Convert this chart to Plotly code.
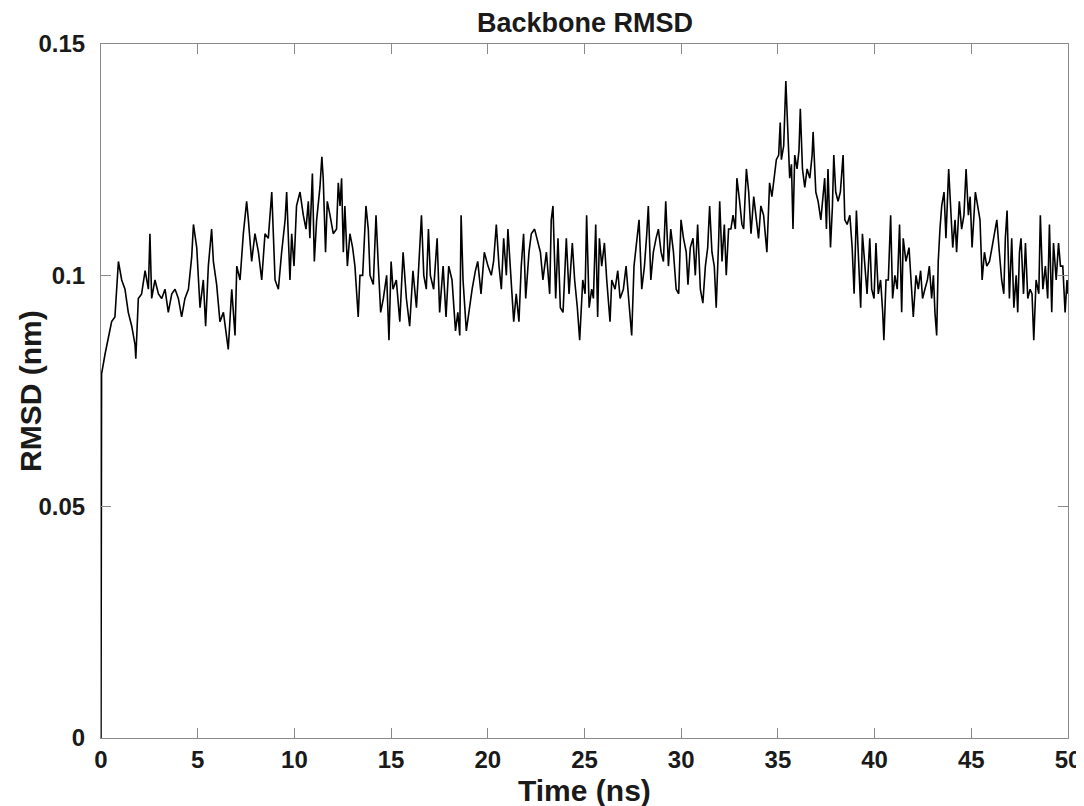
import plotly.graph_objects as go

# Time (ns) and backbone RMSD (nm)
time_ns = [
    0.00, 0.01, 0.02, 0.03, 0.21, 0.38, 0.55, 0.72, 0.90, 1.07, 1.24, 1.41, 1.59, 1.76, 1.80, 1.93,
    2.10, 2.28, 2.45, 2.53, 2.62, 2.79, 2.97, 3.14, 3.31, 3.48, 3.66, 3.83, 4.00, 4.17, 4.34, 4.52,
    4.69, 4.78, 4.95,
    5.12, 5.29, 5.41, 5.55, 5.72, 5.81, 5.98, 6.15, 6.33, 6.50, 6.58, 6.76, 6.93, 7.02, 7.19, 7.36,
    7.53, 7.62, 7.79, 7.96, 8.14, 8.31, 8.48, 8.65, 8.83, 9.00, 9.17, 9.34, 9.52, 9.60, 9.77,
    9.86, 9.98, 10.11, 10.29, 10.46, 10.60, 10.72, 10.80, 10.93, 11.03, 11.15, 11.32, 11.42, 11.49,
    11.61, 11.70, 11.84, 12.01, 12.18, 12.27, 12.36, 12.44, 12.53, 12.61, 12.74, 12.87, 13.01, 13.13,
    13.30, 13.39, 13.53, 13.70, 13.82, 13.91, 14.08, 14.22, 14.34, 14.46, 14.60, 14.77, 14.89,
    15.00, 15.10, 15.27, 15.45, 15.62, 15.79, 15.96, 16.13, 16.31, 16.43, 16.57, 16.69, 16.82, 16.93,
    17.03, 17.20, 17.38, 17.51, 17.69, 17.84, 17.98, 18.15, 18.33, 18.45, 18.55, 18.62, 18.72, 18.89,
    19.01, 19.19, 19.36, 19.48, 19.65, 19.82,
    20.01, 20.18, 20.30, 20.44, 20.58, 20.70, 20.82, 20.96, 21.04, 21.16, 21.34, 21.47, 21.61, 21.73,
    21.85, 21.96, 22.13, 22.25, 22.42, 22.54, 22.72, 22.85, 23.03, 23.20, 23.28, 23.37, 23.51, 23.63,
    23.75, 23.89, 24.06, 24.20, 24.37, 24.49, 24.63, 24.75,
    24.91, 25.03, 25.11, 25.24, 25.37, 25.46, 25.58, 25.68, 25.77, 25.89, 26.03, 26.15, 26.32, 26.41,
    26.58, 26.72, 26.84, 27.01, 27.15, 27.32, 27.44, 27.56, 27.70, 27.82, 27.96, 28.10, 28.22, 28.30,
    28.43, 28.56, 28.70, 28.82, 28.96, 29.08, 29.20, 29.34, 29.46, 29.60, 29.74,
    29.87, 29.99, 30.12, 30.26, 30.35, 30.47, 30.61, 30.73, 30.85, 30.99, 31.12, 31.25, 31.37, 31.47,
    31.59, 31.71, 31.81, 31.94, 31.99, 32.11, 32.23, 32.33, 32.45, 32.57, 32.68, 32.80, 32.88, 33.02,
    33.14, 33.23, 33.37, 33.49, 33.61, 33.75, 33.88, 34.00, 34.12, 34.26, 34.43, 34.57, 34.69, 34.81,
    34.92, 35.04, 35.12,
    35.18, 35.30, 35.41, 35.53, 35.61, 35.70, 35.78, 35.87, 35.99, 36.09, 36.16, 36.27, 36.39, 36.51,
    36.65, 36.77, 36.82, 36.96, 37.08, 37.22, 37.34, 37.42, 37.51, 37.59, 37.72, 37.82, 37.89, 37.99,
    38.11, 38.23, 38.37, 38.46, 38.58, 38.72, 38.84, 38.94, 39.06, 39.18, 39.28, 39.37, 39.49, 39.61,
    39.75,
    39.85, 39.97, 40.07, 40.19, 40.31, 40.42, 40.48, 40.59, 40.71, 40.83, 40.93, 41.05, 41.17, 41.29,
    41.40, 41.48, 41.62, 41.78, 41.92, 42.00, 42.14, 42.26, 42.38, 42.48, 42.60, 42.73, 42.83, 42.95,
    43.04, 43.12, 43.21, 43.29, 43.38, 43.47, 43.59, 43.69, 43.83, 43.93, 44.04, 44.16, 44.24, 44.38,
    44.50, 44.62, 44.73, 44.85,
    44.94, 45.04, 45.16, 45.21, 45.33, 45.45, 45.56, 45.68, 45.80, 45.94, 46.07, 46.20, 46.32, 46.45,
    46.57, 46.68, 46.76, 46.85, 46.97, 47.09, 47.20, 47.32, 47.40, 47.49, 47.57, 47.70, 47.80, 47.92,
    48.04, 48.14, 48.23, 48.35, 48.49, 48.57, 48.70, 48.83, 48.95, 49.04, 49.16, 49.25, 49.39, 49.51,
    49.61, 49.73, 49.85, 49.95, 50.00,
]

rmsd_nm = [
    0.000, 0.041, 0.075, 0.0787, 0.083, 0.0867, 0.090, 0.091, 0.103, 0.099, 0.097, 0.092, 0.089, 0.085, 0.082, 0.095,
    0.096, 0.101, 0.097, 0.109, 0.095, 0.099, 0.096, 0.095, 0.097, 0.092, 0.096, 0.097, 0.095, 0.091, 0.095, 0.097,
    0.104, 0.111, 0.106,
    0.093, 0.099, 0.089, 0.102, 0.110, 0.103, 0.098, 0.090, 0.092, 0.086, 0.084, 0.097, 0.087, 0.102, 0.099, 0.109,
    0.116, 0.112, 0.103, 0.109, 0.105, 0.099, 0.109, 0.108, 0.118, 0.099, 0.097, 0.105, 0.112, 0.118, 0.099,
    0.109, 0.102, 0.115, 0.118, 0.113, 0.110, 0.116, 0.108, 0.122, 0.103, 0.112, 0.119, 0.1256, 0.121,
    0.105, 0.116, 0.113, 0.109, 0.110, 0.120, 0.115, 0.121, 0.105, 0.115, 0.102, 0.109, 0.106, 0.102,
    0.091, 0.100, 0.100, 0.115, 0.110, 0.100, 0.098, 0.113, 0.102, 0.092, 0.095, 0.100, 0.086,
    0.103, 0.097, 0.099, 0.090, 0.105, 0.095, 0.089, 0.101, 0.093, 0.102, 0.113, 0.100, 0.097, 0.110,
    0.100, 0.097, 0.108, 0.092, 0.102, 0.091, 0.102, 0.099, 0.088, 0.092, 0.087, 0.113, 0.099, 0.088,
    0.092, 0.097, 0.101, 0.103, 0.096, 0.105,
    0.102, 0.100, 0.103, 0.111, 0.102, 0.097, 0.108, 0.100, 0.110, 0.102, 0.090, 0.096, 0.090, 0.102,
    0.109, 0.095, 0.105, 0.109, 0.110, 0.108, 0.105, 0.099, 0.105, 0.096, 0.112, 0.115, 0.095, 0.108,
    0.093, 0.092, 0.108, 0.096, 0.107, 0.099, 0.093, 0.086,
    0.099, 0.096, 0.113, 0.093, 0.097, 0.095, 0.111, 0.091, 0.108, 0.102, 0.107, 0.099, 0.090, 0.099,
    0.097, 0.101, 0.095, 0.097, 0.102, 0.093, 0.087, 0.102, 0.108, 0.112, 0.097, 0.102, 0.109, 0.115,
    0.099, 0.105, 0.108, 0.110, 0.105, 0.103, 0.116, 0.102, 0.110, 0.105, 0.097,
    0.096, 0.112, 0.108, 0.105, 0.098, 0.106, 0.108, 0.100, 0.111, 0.097, 0.094, 0.102, 0.106, 0.115,
    0.105, 0.102, 0.093, 0.108, 0.116, 0.103, 0.111, 0.100, 0.110, 0.110, 0.113, 0.110, 0.121, 0.116,
    0.111, 0.110, 0.123, 0.118, 0.109, 0.117, 0.112, 0.108, 0.115, 0.113, 0.105, 0.120, 0.117, 0.121,
    0.125, 0.126, 0.133,
    0.125, 0.128, 0.142, 0.131, 0.121, 0.124, 0.110, 0.126, 0.123, 0.127, 0.136, 0.123, 0.119, 0.123,
    0.121, 0.126, 0.131, 0.118, 0.116, 0.112, 0.118, 0.121, 0.110, 0.123, 0.106, 0.115, 0.126, 0.118,
    0.116, 0.118, 0.126, 0.112, 0.111, 0.113, 0.106, 0.096, 0.114, 0.103, 0.093, 0.109, 0.102, 0.096,
    0.108,
    0.097, 0.095, 0.107, 0.096, 0.099, 0.092, 0.086, 0.099, 0.099, 0.113, 0.095, 0.100, 0.097, 0.111,
    0.092, 0.108, 0.103, 0.106, 0.097, 0.091, 0.100, 0.097, 0.101, 0.095, 0.097, 0.099, 0.102, 0.095,
    0.100, 0.092, 0.087, 0.103, 0.110, 0.115, 0.118, 0.108, 0.123, 0.116, 0.106, 0.112, 0.105, 0.116,
    0.110, 0.113, 0.123, 0.113,
    0.117, 0.106, 0.113, 0.118, 0.115, 0.112, 0.099, 0.105, 0.102, 0.103, 0.106, 0.109, 0.112, 0.105,
    0.099, 0.096, 0.108, 0.114, 0.095, 0.108, 0.093, 0.100, 0.092, 0.105, 0.108, 0.096, 0.107, 0.095,
    0.097, 0.096, 0.086, 0.099, 0.096, 0.113, 0.097, 0.102, 0.095, 0.111, 0.092, 0.107, 0.099, 0.107,
    0.102, 0.102, 0.092, 0.099, 0.096,
]

x_ticks = [0, 5, 10, 15, 20, 25, 30, 35, 40, 45, 50]
y_ticks = [0, 0.05, 0.1, 0.15]
y_tick_text = ["0", "0.05", "0.1", "0.15"]

FONT = "Liberation Sans, Arial, sans-serif"
TXT = "#1a1a1a"

# page body adds an 8 px offset; figure is sized to fit the 1084x806 window
W, H = 1076, 798
ML, MR, MT, MB = 93, 16, 36, 68
plot_w = W - ML - MR
plot_h = H - MT - MB

fig = go.Figure()
fig.add_trace(go.Scatter(
    x=time_ns, y=rmsd_nm, mode="lines",
    line=dict(color="black", width=1.6),
    showlegend=False,
))

axis_common = dict(
    showline=True, linecolor="#8a8a8a", linewidth=1.2, mirror="ticks",
    ticks="inside", ticklen=10, tickcolor="#8a8a8a", tickwidth=1,
    showgrid=False, zeroline=False, automargin=False,
    tickfont=dict(family=FONT, size=24, color=TXT, weight="bold"),
)

fig.update_layout(
    width=W, height=H,
    margin=dict(l=ML, r=MR, t=MT, b=MB),
    paper_bgcolor="white", plot_bgcolor="white",
    xaxis=dict(
        range=[0, 50], tickvals=x_ticks, ticktext=[str(v) for v in x_ticks],
        **axis_common,
    ),
    yaxis=dict(
        range=[0, 0.15], tickvals=y_ticks, ticktext=y_tick_text,
        ticklabelstandoff=10,
        **axis_common,
    ),
    annotations=[
        dict(text="<b>Backbone RMSD</b>", xref="paper", yref="paper",
             x=0.5, y=1 + 21 / plot_h, xanchor="center", yanchor="middle",
             showarrow=False, font=dict(family=FONT, size=27, color=TXT)),
        dict(text="<b>Time (ns)</b>", xref="paper", yref="paper",
             x=0.5, y=-52 / plot_h, xanchor="center", yanchor="middle",
             showarrow=False, font=dict(family=FONT, size=30, color=TXT)),
        dict(text="<b>RMSD (nm)</b>", xref="paper", yref="paper",
             x=-(ML - 22) / plot_w, y=0.5, xanchor="center", yanchor="middle",
             textangle=-90, showarrow=False,
             font=dict(family=FONT, size=30, color=TXT)),
    ],
)

fig.write_html("out.html")
